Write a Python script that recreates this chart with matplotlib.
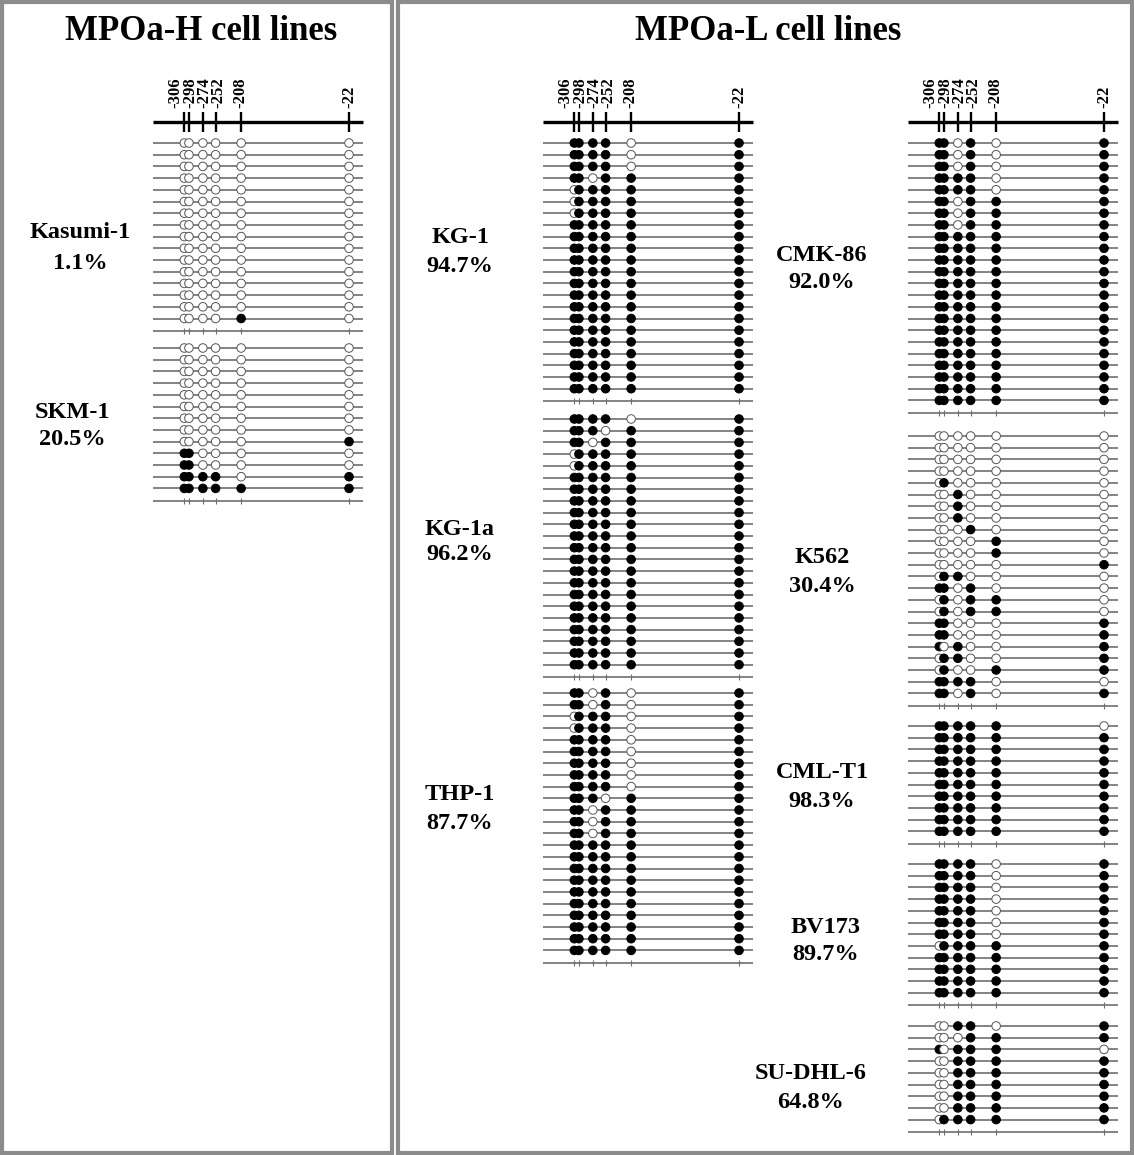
import matplotlib
matplotlib.use('Agg')
import matplotlib.pyplot as plt
from matplotlib.patches import Rectangle
import matplotlib.transforms as mtransforms

# ---------------- data ----------------
sites = [-306, -298, -274, -252, -208, -22]
site_labels = ['-306', '-298', '-274', '-252', '-208', '-22']

panel_titles = ['MPOa-H cell lines', 'MPOa-L cell lines']

kasumi1 = [[0, 0, 0, 0, 0, 0]] * 15 + [[0, 0, 0, 0, 1, 0]]
skm1 = [[0, 0, 0, 0, 0, 0]] * 8 + [
    [0, 0, 0, 0, 0, 1],
    [1, 1, 0, 0, 0, 0],
    [1, 1, 0, 0, 0, 0],
    [1, 1, 1, 1, 0, 1],
    [1, 1, 1, 1, 1, 1],
]
kg1 = [
    [1, 1, 1, 1, 0, 1],
    [1, 1, 1, 1, 0, 1],
    [1, 1, 1, 1, 0, 1],
    [1, 1, 0, 1, 1, 1],
    [0, 1, 1, 1, 1, 1],
    [0, 1, 1, 1, 1, 1],
    [0, 1, 1, 1, 1, 1],
] + [[1, 1, 1, 1, 1, 1]] * 15
kg1a = [
    [1, 1, 1, 1, 0, 1],
    [1, 1, 1, 0, 1, 1],
    [1, 1, 0, 1, 1, 1],
    [0, 1, 1, 1, 1, 1],
    [0, 1, 1, 1, 1, 1],
] + [[1, 1, 1, 1, 1, 1]] * 17
thp1 = [
    [1, 1, 0, 1, 0, 1],
    [1, 1, 0, 1, 0, 1],
    [0, 1, 1, 1, 0, 1],
    [0, 1, 1, 1, 0, 1],
    [1, 1, 1, 1, 0, 1],
    [1, 1, 1, 1, 0, 1],
    [1, 1, 1, 1, 0, 1],
    [1, 1, 1, 1, 0, 1],
    [1, 1, 1, 1, 0, 1],
    [1, 1, 1, 0, 1, 1],
    [1, 1, 0, 1, 1, 1],
    [1, 1, 0, 1, 1, 1],
    [1, 1, 0, 1, 1, 1],
] + [[1, 1, 1, 1, 1, 1]] * 10
cmk86 = [
    [1, 1, 0, 1, 0, 1],
    [1, 1, 0, 1, 0, 1],
    [1, 1, 0, 1, 0, 1],
    [1, 1, 1, 1, 0, 1],
    [1, 1, 1, 1, 0, 1],
    [1, 1, 0, 1, 1, 1],
    [1, 1, 0, 1, 1, 1],
    [1, 1, 0, 1, 1, 1],
] + [[1, 1, 1, 1, 1, 1]] * 15
k562 = [
    [0, 0, 0, 0, 0, 0],
    [0, 0, 0, 0, 0, 0],
    [0, 0, 0, 0, 0, 0],
    [0, 0, 0, 0, 0, 0],
    [0, 1, 0, 0, 0, 0],
    [0, 0, 1, 0, 0, 0],
    [0, 0, 1, 0, 0, 0],
    [0, 0, 1, 0, 0, 0],
    [0, 0, 0, 1, 0, 0],
    [0, 0, 0, 0, 1, 0],
    [0, 0, 0, 0, 1, 0],
    [0, 0, 0, 0, 0, 1],
    [0, 1, 1, 0, 0, 0],
    [1, 1, 0, 1, 0, 0],
    [0, 1, 0, 1, 1, 0],
    [0, 1, 0, 1, 1, 0],
    [1, 1, 0, 0, 0, 1],
    [1, 1, 0, 0, 0, 1],
    [1, 0, 1, 0, 0, 1],
    [0, 1, 1, 0, 0, 1],
    [0, 1, 0, 0, 1, 1],
    [1, 1, 1, 1, 0, 0],
    [1, 1, 0, 1, 0, 1],
]
cmlt1 = [[1, 1, 1, 1, 1, 0]] + [[1, 1, 1, 1, 1, 1]] * 9
bv173 = [[1, 1, 1, 1, 0, 1]] * 7 + [[0, 1, 1, 1, 1, 1]] + [[1, 1, 1, 1, 1, 1]] * 4
sudhl6 = [
    [0, 0, 1, 1, 0, 1],
    [0, 0, 0, 1, 1, 1],
    [1, 0, 1, 1, 1, 0],
    [0, 0, 1, 1, 1, 1],
    [0, 0, 1, 1, 1, 1],
    [0, 0, 1, 1, 1, 1],
    [0, 0, 1, 1, 1, 1],
    [0, 0, 1, 1, 1, 1],
    [0, 1, 1, 1, 1, 1],
]

cell_names = ['Kasumi-1', 'SKM-1', 'KG-1', 'KG-1a', 'THP-1',
              'CMK-86', 'K562', 'CML-T1', 'BV173', 'SU-DHL-6']
cell_pcts = ['1.1%', '20.5%', '94.7%', '96.2%', '87.7%',
             '92.0%', '30.4%', '98.3%', '89.7%', '64.8%']
cell_data = [kasumi1, skm1, kg1, kg1a, thp1, cmk86, k562, cmlt1, bv173, sudhl6]

# ---------------- layout (pixels) ----------------
W, H = 1134, 1155
SERIF = ['Liberation Serif', 'DejaVu Serif']
PXBP = 0.58            # pixels per bp
XMIN, XMAX = -360, 2   # extent of each row line (bp)
ROW = 11.7             # row pitch (px)
col_anchor = [184.3, 574.3, 939.3]   # pixel x of site -306 per column
block_col = [0, 0, 1, 1, 1, 2, 2, 2, 2, 2]
block_top = [143, 348, 143, 419, 693, 143, 436, 726, 864, 1026]
label_xy = [(80, 248), (72, 426), (460, 252), (460, 542), (460, 809),
            (822, 269), (822, 572), (822, 787), (826, 941), (811, 1088)]
label_gap = [1.6, 1.35, 1.55, 1.3, 1.5, 1.35, 1.45, 1.45, 1.4, 1.5]

GREY = '#6e6e6e'

fig = plt.figure(figsize=(W / 100, H / 100), dpi=100)

# panel frames
for x0, x1 in [(2, 392), (398, 1132)]:
    fig.add_artist(Rectangle((x0 / W, 2 / H), (x1 - x0) / W, (H - 4) / H,
                             transform=fig.transFigure, fill=False,
                             ec='#8c8c8c', lw=3))

fig.text(201 / W, 1 - 31 / H, panel_titles[0], ha='center', va='center',
         family=SERIF, weight='bold', fontsize=25)
fig.text(768 / W, 1 - 31 / H, panel_titles[1], ha='center', va='center',
         family=SERIF, weight='bold', fontsize=25)

axes = []
for a in col_anchor:
    left_px = a + (XMIN - sites[0]) * PXBP
    width_px = (XMAX - XMIN) * PXBP
    ax = fig.add_axes([left_px / W, 0, width_px / W, 1])
    ax.set_xlim(XMIN, XMAX)
    ax.set_ylim(H, 0)
    ax.axis('off')
    axes.append(ax)

    # header axis
    ax.hlines(122, XMIN, XMAX, color='black', lw=2.4, clip_on=False)
    ax.vlines(sites, 112, 132, color='black', lw=1.7, clip_on=False)
    offsets = [-9, 1, 2, 3, -1, 0]
    for s, lab, off in zip(sites, site_labels, offsets):
        tr = ax.transData + mtransforms.ScaledTranslation(off / 100, 0, fig.dpi_scale_trans)
        ax.text(s, 108, lab, rotation=90, ha='center', va='bottom',
                family=SERIF, weight='bold', fontsize=12, transform=tr)

for name, pct, data, col, top, (lx, ly), gap in zip(
        cell_names, cell_pcts, cell_data, block_col, block_top, label_xy, label_gap):
    ax = axes[col]
    for i, row in enumerate(data):
        y = top + i * ROW
        ax.hlines(y, XMIN, XMAX, color=GREY, lw=1.2, clip_on=False, zorder=1)
        fc = ['black' if m else 'white' for m in row]
        ec = ['black' if m else '#555555' for m in row]
        ax.scatter(sites, [y] * len(sites), s=38, facecolors=fc, edgecolors=ec,
                   linewidths=0.7, clip_on=False, zorder=2)
    yb = top + (len(data) - 1) * ROW + 12.5
    ax.hlines(yb, XMIN, XMAX, color=GREY, lw=1.2, clip_on=False)
    ax.vlines(sites, yb - 3, yb + 3, color=GREY, lw=0.8, clip_on=False)
    fig.text(lx / W, 1 - ly / H, name + '\n' + pct, ha='center', va='center',
             family=SERIF, weight='bold', fontsize=17.5, linespacing=gap)

fig.savefig('out.png', dpi=100)
